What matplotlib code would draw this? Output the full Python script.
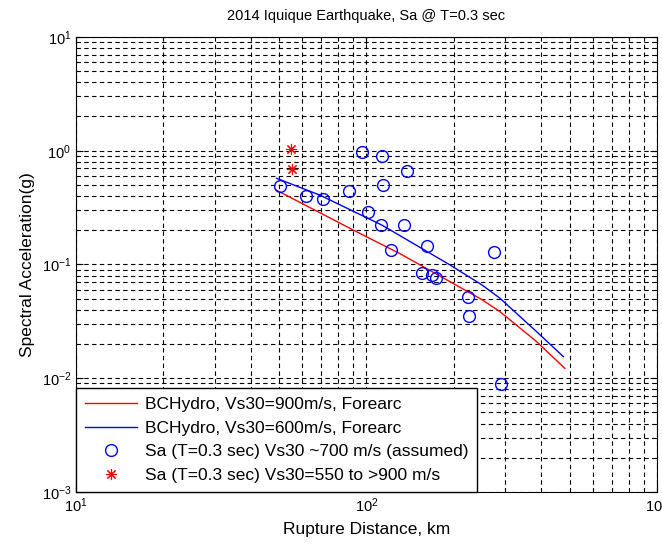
import numpy as np
import matplotlib
matplotlib.use('Agg')
import matplotlib.pyplot as plt
from matplotlib.ticker import LogLocator

plt.rcParams['font.family'] = ['Liberation Sans', 'DejaVu Sans']
plt.rcParams['mathtext.fontset'] = 'custom'
plt.rcParams['mathtext.rm'] = 'Liberation Sans'
plt.rcParams['mathtext.it'] = 'Liberation Sans'

# BCHydro model curves
red_dist = [49, 90, 130, 194, 250, 288, 385, 482]
red_sa = [0.45, 0.201, 0.125, 0.0706, 0.049, 0.0385, 0.021, 0.0122]
blue_dist = [49, 69, 113, 130, 194, 250, 288, 385, 476]
blue_sa = [0.573, 0.408, 0.222, 0.18, 0.099, 0.066, 0.0505, 0.0257, 0.0155]

# recorded Sa, Vs30 ~700 m/s (assumed)
obs_dist = [50.3, 61.9, 70.8, 86.9, 96.2, 113.5, 138, 114, 101.6, 112.5, 135,
            121.6, 161.6, 155, 168, 173, 223, 275, 226, 291]
obs_sa = [0.49, 0.40, 0.378, 0.44, 0.98, 0.90, 0.667, 0.50, 0.29, 0.223, 0.223,
          0.134, 0.146, 0.084, 0.081, 0.076, 0.052, 0.129, 0.035, 0.0089]

# recorded Sa, Vs30 550 to >900 m/s
star_dist = [55, 55.5]
star_sa = [1.04, 0.694]

fig = plt.figure(figsize=(6.62, 5.48), dpi=100)
ax = fig.add_axes([0.1148, 0.1022, 0.8776, 0.8303])

ax.plot(red_dist, red_sa, color='red', lw=1.0, label='BCHydro, Vs30=900m/s, Forearc')
ax.plot(blue_dist, blue_sa, color='blue', lw=1.0, label='BCHydro, Vs30=600m/s, Forearc')
ax.plot(obs_dist, obs_sa, 'o', mfc='none', mec='blue', ms=8.5, mew=1.0,
        label='Sa (T=0.3 sec) Vs30 ~700 m/s (assumed)')
ax.plot(star_dist, star_sa, ls='none', marker=(8, 2, 0), color='red', ms=8, mew=0.8,
        label='Sa (T=0.3 sec) Vs30=550 to >900 m/s')

ax.set_xscale('log')
ax.set_yscale('log')
ax.set_xlim(10, 1000)
ax.set_ylim(1e-3, 10)
ax.xaxis.set_minor_locator(LogLocator(base=10, subs=np.arange(2, 10)))
ax.yaxis.set_minor_locator(LogLocator(base=10, subs=np.arange(2, 10)))

ax.grid(True, which='both', color='black', ls=(0, (4, 3)), lw=0.8)
ax.tick_params(which='both', direction='in', top=True, right=True, labelsize=10.5)
ax.tick_params(which='major', length=5)
ax.tick_params(which='minor', length=3)
for s in ax.spines.values():
    s.set_linewidth(0.8)

ax.set_title('2014 Iquique Earthquake, Sa @ T=0.3 sec', fontsize=10.5, pad=12)
ax.set_xlabel('Rupture Distance, km', fontsize=12.5, labelpad=5)
ax.set_ylabel('Spectral Acceleration(g)', fontsize=12.5, labelpad=5)

leg = ax.legend(loc='lower left', borderaxespad=0, fontsize=12.5, numpoints=1,
                handlelength=3.0, handletextpad=0.45, labelspacing=0.5,
                borderpad=0.5, fancybox=False, framealpha=1, edgecolor='black')
leg.get_frame().set_linewidth(1.0)

fig.savefig('out.png', dpi=100)
